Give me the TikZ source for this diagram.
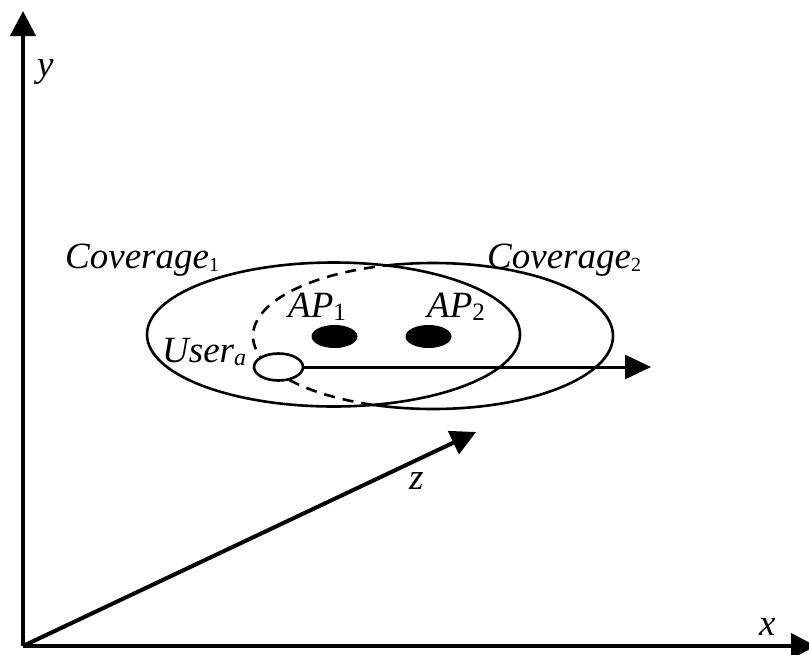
\documentclass[tikz,border=0pt]{standalone}
\usepackage{fontspec}
\setmainfont{Liberation Serif}
\usetikzlibrary{arrows.meta,shapes.geometric}
\tikzset{
  axis/.style={line width=4pt,-{Triangle[length=25pt,width=25pt]}},
  zone/.style={line width=2.6pt},
  lbl/.style={anchor=base west,inner sep=0pt,font=\fontsize{37}{40}\selectfont\itshape},
  apdot/.style={ellipse,fill=black,minimum width=46pt,minimum height=23pt,inner sep=0pt},
  userdot/.style={ellipse,draw,line width=2.6pt,fill=white,minimum width=49pt,minimum height=27pt,inner sep=0pt},
}
\newcommand{\subup}[2]{\raisebox{-3pt}{\fontsize{#1}{#1}\selectfont\upshape #2}}
\newcommand{\subit}[2]{\raisebox{-3pt}{\fontsize{#1}{#1}\selectfont\itshape #2}}
\begin{document}
\begin{tikzpicture}[x=1pt,y=-1pt]
\useasboundingbox (0,0) rectangle (809,654);
% coverage 2 (solid outside coverage 1)
\draw[zone] (433,336) ellipse [x radius=180pt, y radius=73pt];
\fill[white] (333.5,334.5) ellipse [x radius=186.5pt, y radius=72pt];
\begin{scope}
  \clip (333.5,334.5) ellipse [x radius=186.5pt, y radius=72pt];
  \draw[zone,dash pattern=on 11pt off 8pt] (433,336) ellipse [x radius=180pt, y radius=73pt];
\end{scope}
% coverage 1
\draw[zone] (333.5,334.5) ellipse [x radius=186.5pt, y radius=72pt];
% access points
\node[apdot] (ap1) at (334.5,336.5) {};
\node[apdot] (ap2) at (428.5,336.5) {};
% user and movement arrow
\node[userdot] (user) at (278.5,367) {};
\coordinate (mv) at (651,367);
\draw[line width=3pt,-{Triangle[length=26pt,width=24pt]}] (user.east) -- (mv);
% axes
\coordinate (O) at (23,646);
\coordinate (ytip) at (23,11);
\coordinate (xtip) at (816,646);
\coordinate (ztip) at (476,432);
\draw[axis] (O) -- (ytip);
\draw[axis] (O) -- (xtip);
\draw[axis] (O) -- (ztip);
% labels
\node[lbl] (ly) at (37,76) {y};
\node[lbl] (lx) at (759,635) {x};
\node[lbl] (lz) at (409,489) {z};
\node[lbl] (lc1) at (65,268) {Coverage\subup{20}{1}};
\node[lbl] (lc2) at (487,268) {Coverage\subup{20}{2}};
\node[lbl] (lap1) at (288,317) {AP\subup{25}{1}};
\node[lbl] (lap2) at (427,317) {AP\subup{25}{2}};
\node[lbl] (lu) at (162,362) {User\subit{24}{a}};
\end{tikzpicture}
\end{document}
